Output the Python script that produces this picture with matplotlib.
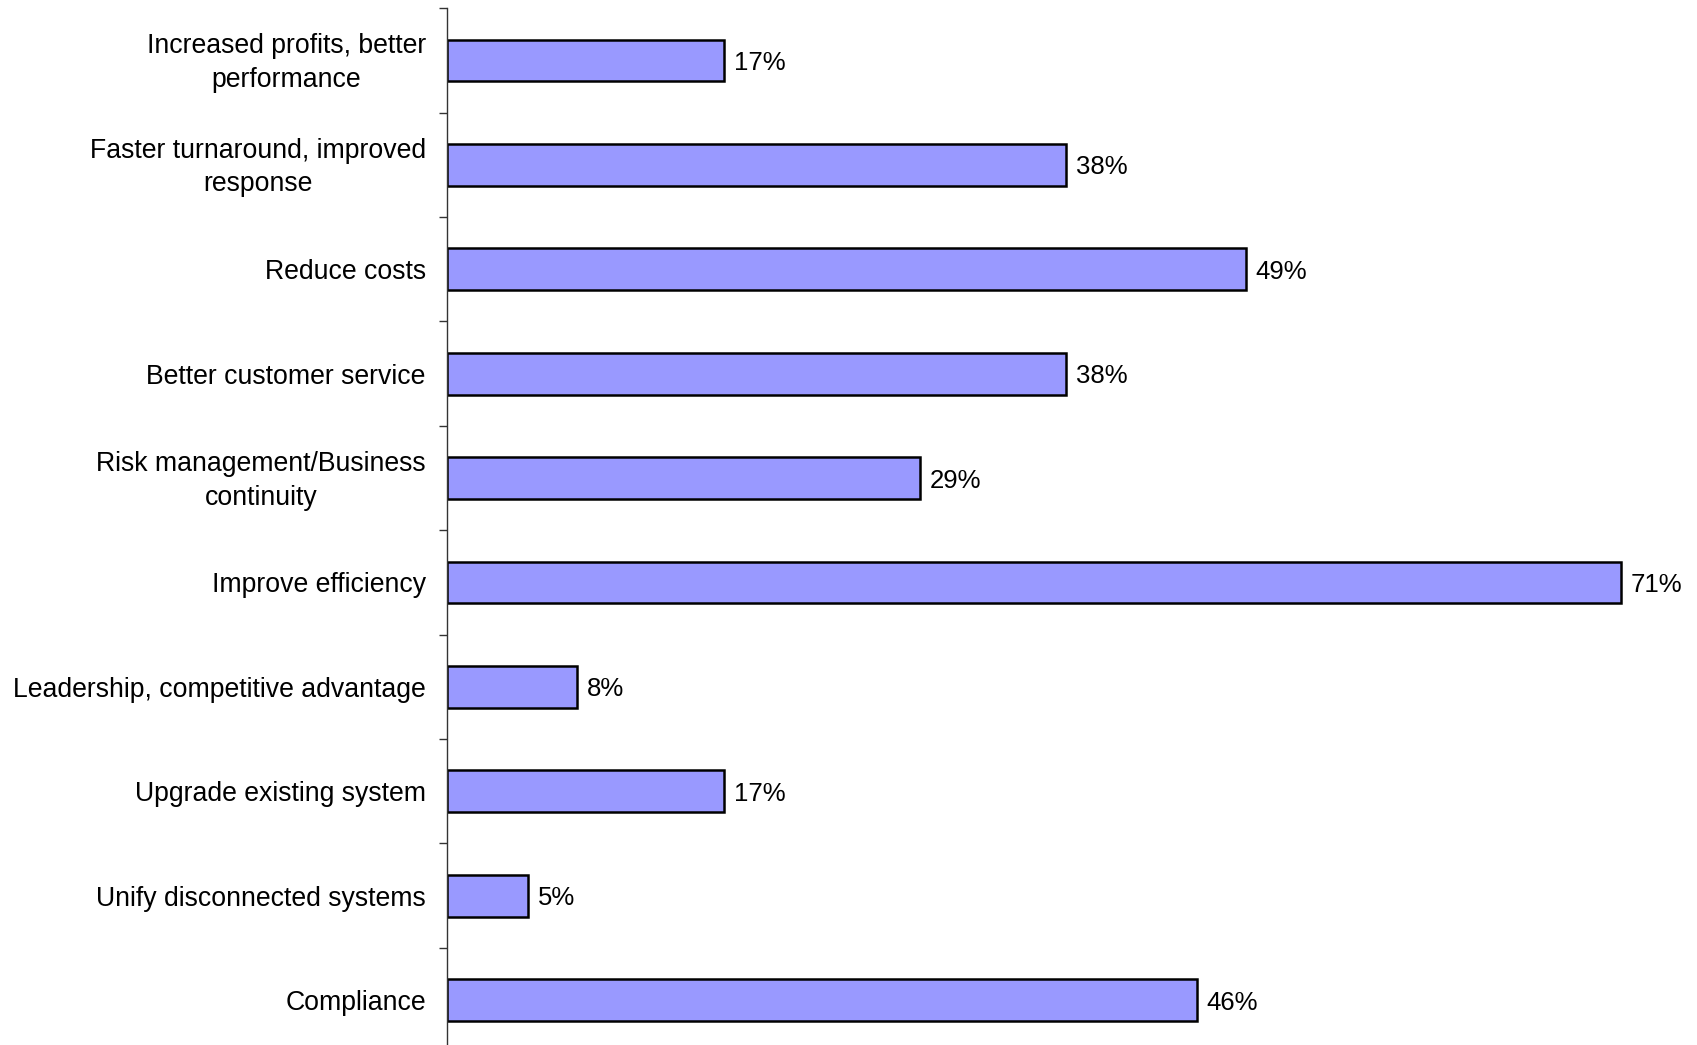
import numpy as np
import matplotlib
matplotlib.use("Agg")
import matplotlib.pyplot as plt
from matplotlib.transforms import offset_copy, ScaledTranslation

plt.rcParams['font.family'] = ['Liberation Sans', 'DejaVu Sans']

# data, top to bottom
categories = [
    "Increased profits, better\nperformance",
    "Faster turnaround, improved\nresponse",
    "Reduce costs",
    "Better customer service",
    "Risk management/Business\ncontinuity",
    "Improve efficiency",
    "Leadership, competitive advantage",
    "Upgrade existing system",
    "Unify disconnected systems",
    "Compliance",
]
values = [17, 38, 49, 38, 29, 72, 8, 17, 5, 46]
value_labels = ["17%", "38%", "49%", "38%", "29%", "71%", "8%", "17%", "5%", "46%"]

W, H = 1697, 1045
fig = plt.figure(figsize=(W / 100, H / 100), dpi=100)

# axes placed in pixels: left spine at x=446.7, top at y=8.3, 104.4 px per category
left_px, top_px, cat_px = 446.7, 8.3, 104.4
n = len(categories)
bottom_px = top_px + cat_px * n
ax = fig.add_axes([left_px / W, (H - bottom_px) / H, 1 - left_px / W, (bottom_px - top_px) / H])

y = np.arange(n)
ax.barh(y, values, height=0.4, color='#9999ff', edgecolor='black', linewidth=1.8)

# value labels, nudged down a touch to sit on the bar centre
lab_tr = offset_copy(ax.transData, fig=fig, x=0, y=-2.5, units='dots')
for yi, v, lab in zip(y, values, value_labels):
    ax.text(v + 0.6, yi, lab, va='center', ha='left', fontsize=18.5, transform=lab_tr)

px_per_pct = 16.31
ax.set_xlim(0, (W - left_px) / px_per_pct)
ax.set_ylim(n - 0.5, -0.5)

ax.set_yticks(y)
ax.set_yticklabels(categories, fontsize=19.2, multialignment='center', linespacing=1.38)
ax.set_yticks(np.arange(n + 1) - 0.5, minor=True)
ax.tick_params(axis='y', which='major', length=0, pad=15)
ax.tick_params(axis='y', which='minor', length=6, width=1, color='#333333')
ax.set_xticks([])

# two-line labels sit a few pixels higher in the original
for t in ax.get_yticklabels():
    if '\n' in t.get_text():
        t.set_transform(t.get_transform() + ScaledTranslation(0, 4 / 100, fig.dpi_scale_trans))

for s in ['top', 'right', 'bottom']:
    ax.spines[s].set_visible(False)
ax.spines['left'].set_color('#333333')
ax.spines['left'].set_linewidth(1)

fig.savefig("out.png", dpi=100)
